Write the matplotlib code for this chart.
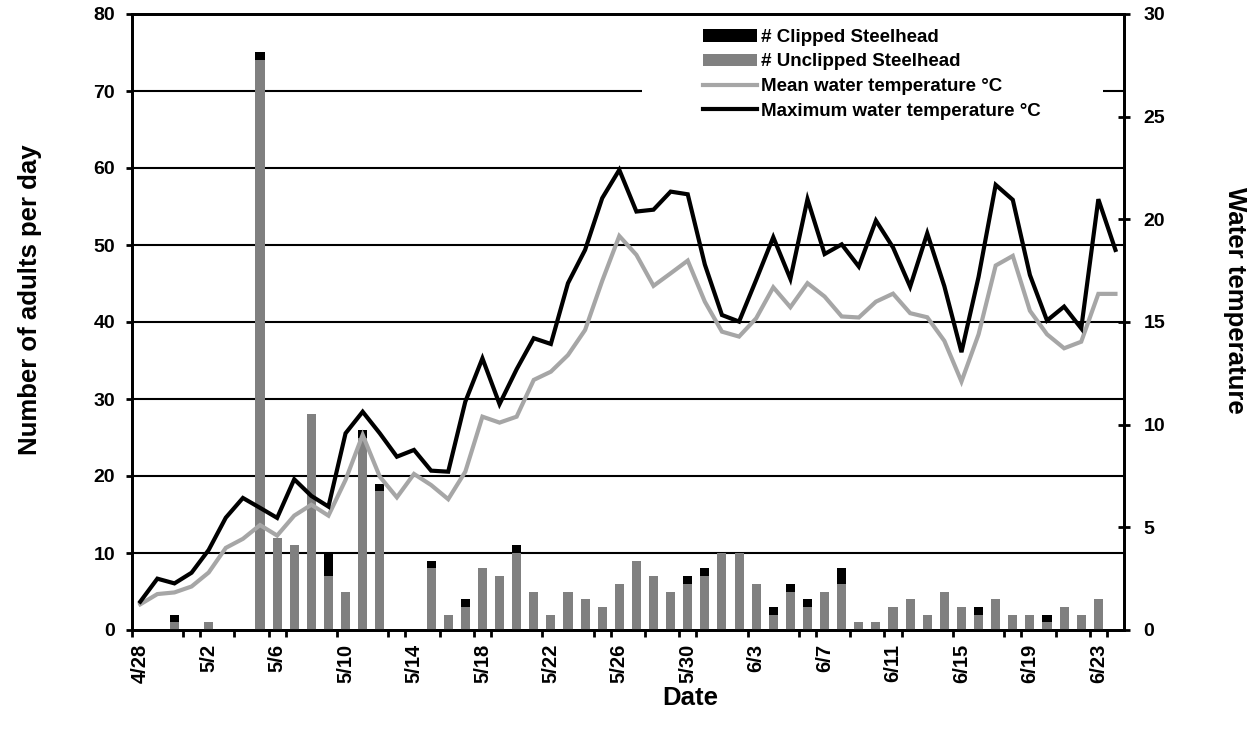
import datetime as dt
import numpy as np
import matplotlib
matplotlib.use("Agg")
import matplotlib.pyplot as plt
from matplotlib.patches import Rectangle, Patch
from matplotlib.lines import Line2D

plt.rcParams["font.family"] = ["Liberation Sans", "DejaVu Sans"]
plt.rcParams["font.weight"] = "bold"

# Daily categories, 28 April through 24 June
start = dt.date(2000, 4, 28)
dates = [f"{(start + dt.timedelta(days=k)).month}/{(start + dt.timedelta(days=k)).day}" for k in range(58)]

unclipped = [0, 0, 1, 0, 1, 0, 0, 74, 12, 11,
             28, 7, 5, 25, 18, 0, 0, 8, 2, 3,
             8, 7, 10, 5, 2, 5, 4, 3, 6, 9,
             7, 5, 6, 7, 10, 10, 6, 2, 5, 3,
             5, 6, 1, 1, 3, 4, 2, 5, 3, 2,
             4, 2, 2, 1, 3, 2, 4, 0]
clipped = [0, 0, 1, 0, 0, 0, 0, 1, 0, 0,
           0, 3, 0, 1, 1, 0, 0, 1, 0, 1,
           0, 0, 1, 0, 0, 0, 0, 0, 0, 0,
           0, 0, 1, 1, 0, 0, 0, 1, 1, 1,
           0, 2, 0, 0, 0, 0, 0, 0, 0, 1,
           0, 0, 0, 1, 0, 0, 0, 0]
mean_temp = [1.25, 1.75, 1.83, 2.12, 2.8, 4.0, 4.44, 5.11, 4.6, 5.57,
             6.1, 5.57, 7.31, 9.5, 7.47, 6.46, 7.6, 7.06, 6.37, 7.71,
             10.39, 10.1, 10.39, 12.18, 12.58, 13.39, 14.61, 17.0, 19.19, 18.27,
             16.76, 17.37, 17.99, 15.99, 14.53, 14.29, 15.18, 16.69, 15.72, 16.89,
             16.24, 15.27, 15.22, 15.99, 16.38, 15.43, 15.23, 14.08, 12.1, 14.4,
             17.75, 18.22, 15.55, 14.4, 13.72, 14.04, 16.37, 16.37]
max_temp = [1.38, 2.5, 2.27, 2.79, 3.9, 5.47, 6.43, 5.95, 5.46, 7.34,
            6.53, 6.01, 9.58, 10.63, 9.58, 8.44, 8.77, 7.76, 7.71, 11.12,
            13.23, 11.0, 12.7, 14.21, 13.93, 16.89, 18.51, 21.03, 22.41, 20.38,
            20.47, 21.35, 21.22, 17.8, 15.34, 15.02, 17.05, 19.13, 17.1, 20.98,
            18.31, 18.78, 17.7, 19.94, 18.63, 16.72, 19.32, 16.74, 13.53, 17.2,
            21.68, 20.95, 17.29, 15.07, 15.75, 14.69, 20.98, 18.51]

x = np.arange(len(dates))

fig = plt.figure(figsize=(12.55, 7.29), dpi=100)
ax = fig.add_axes([131.7 / 1255, 99 / 729, (1124 - 131.7) / 1255, (630 - 14) / 729])
ax2 = ax.twinx()

# horizontal grid
for v in range(10, 80, 10):
    ax.axhline(v, color="black", lw=1.5, zorder=1)

# white panel behind the legend (x in axes fraction, y in data units)
ax.add_patch(Rectangle((0.514, 65.0), 0.465, 14.4, transform=ax.get_yaxis_transform(),
                       facecolor="white", edgecolor="none", zorder=1.5))

ax.bar(x, unclipped, width=0.53, color="#808080", zorder=3)
ax.bar(x, clipped, width=0.53, bottom=unclipped, color="black", zorder=3)

ax2.plot(x, mean_temp, color="#a6a6a6", lw=3.0, solid_joinstyle="miter")
ax2.plot(x, max_temp, color="black", lw=3.0, solid_joinstyle="miter")

ax.set_xlim(-0.5, len(dates) - 0.5)
ax.set_ylim(0, 80)
ax2.set_ylim(0, 30)

for a in (ax, ax2):
    for s in a.spines.values():
        s.set_linewidth(2)

# bottom axis: tick marks on category boundaries, labels at category centres
bounds = sorted(set(list(range(0, 58, 3)) + list(range(0, 58, 4))))
ax.set_xticks([b - 0.5 for b in bounds])
ax.set_xticklabels([])
ax.tick_params(axis="x", which="major", direction="out", length=5, width=2)
ax.set_xticks(x[::4], minor=True)
ax.set_xticklabels(dates[::4], minor=True, rotation=90, fontsize=14.5, fontweight="bold")
ax.tick_params(axis="x", which="minor", length=0, pad=10)

ax.set_yticks(range(0, 81, 10))
ax.set_yticklabels([str(v) for v in range(0, 81, 10)], fontsize=14, fontweight="bold")
ax.tick_params(axis="y", direction="out", length=4.5, width=2, pad=7.5)

ax2.set_yticks(range(0, 31, 5))
ax2.set_yticklabels([str(v) for v in range(0, 31, 5)], fontsize=14, fontweight="bold")
ax2.tick_params(axis="y", direction="inout", length=9, width=2, pad=9.5)

fig.text(30 / 1255, 1 - 300 / 729, "Number of adults per day", rotation=90,
         ha="center", va="center", fontsize=18.5, fontweight="bold")
fig.text(1235 / 1255, 1 - 300 / 729, "Water temperature", rotation=-90,
         ha="center", va="center", fontsize=18.5, fontweight="bold")
fig.text(690 / 1255, 1 - 698 / 729, "Date", ha="center", va="center",
         fontsize=18.5, fontweight="bold")

handles = [Patch(facecolor="black", edgecolor="none"),
           Patch(facecolor="#808080", edgecolor="none"),
           Line2D([], [], color="#a6a6a6", lw=3.0),
           Line2D([], [], color="black", lw=3.0)]
labels = ["# Clipped Steelhead", "# Unclipped Steelhead",
          "Mean water temperature \u00b0C", "Maximum water temperature \u00b0C"]
leg = ax2.legend(handles, labels, loc="upper left",
                 bbox_to_anchor=(703 / 1255, 1 - 29 / 729), bbox_transform=fig.transFigure,
                 frameon=False, fontsize=13.5, handlelength=2.9, handleheight=0.65,
                 handletextpad=0.2, labelspacing=0.40, borderpad=0, borderaxespad=0)
for t in leg.get_texts():
    t.set_fontweight("bold")

fig.savefig("out.png", dpi=100)
